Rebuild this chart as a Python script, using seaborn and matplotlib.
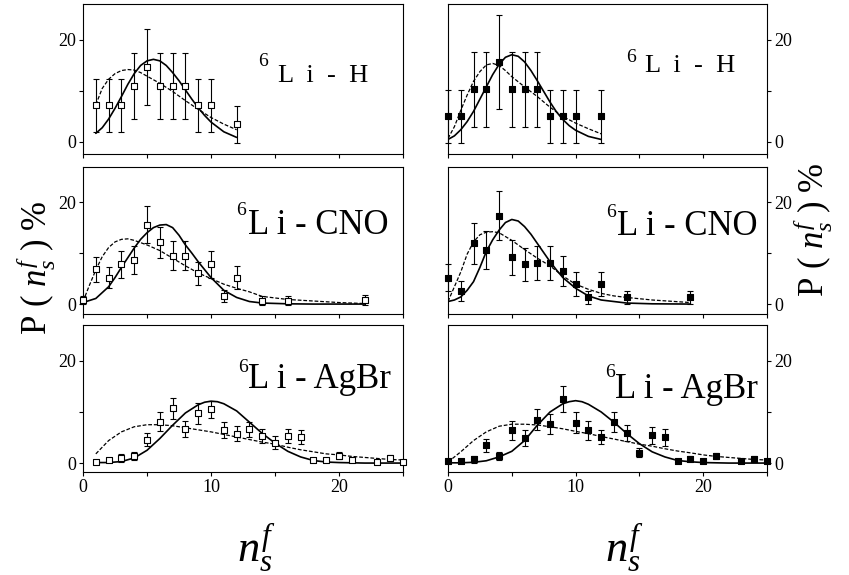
import matplotlib
matplotlib.use("Agg")
import matplotlib.pyplot as plt
import seaborn as sns

sns.set_style("ticks")
plt.rcParams['font.family'] = ['Liberation Serif', 'DejaVu Serif']
plt.rcParams['mathtext.fontset'] = 'custom'
plt.rcParams['mathtext.rm'] = 'Liberation Serif'
plt.rcParams['mathtext.it'] = 'Liberation Serif:italic'
plt.rcParams['axes.edgecolor'] = 'black'
plt.rcParams['text.color'] = 'black'

# ---- 6Li-H ----
h_x_open = [1, 2, 3, 4, 5, 6, 7, 8, 9, 10, 12]
h_y_open = [7.2, 7.2, 7.2, 11.0, 14.7, 11.0, 11.0, 11.0, 7.2, 7.2, 3.5]
h_e_open = [5.2, 5.2, 5.2, 6.4, 7.5, 6.4, 6.4, 6.4, 5.2, 5.2, 3.6]
h_x_fill = [0, 1, 2, 3, 4, 5, 6, 7, 8, 9, 10, 12]
h_y_fill = [5.0, 5.0, 10.3, 10.3, 15.7, 10.3, 10.3, 10.3, 5.0, 5.0, 5.0, 5.0]
h_e_fill = [5.1, 5.1, 7.4, 7.4, 9.2, 7.4, 7.4, 7.4, 5.1, 5.1, 5.1, 5.1]

h_solid_l_x = [1, 1.5, 2, 2.5, 3, 3.5, 4, 4.5, 5, 5.5, 6, 6.5, 7, 7.5, 8, 8.5, 9, 9.5, 10, 11, 12]
h_solid_l_y = [1.7, 2.8, 4.5, 6.6, 8.9, 11.3, 13.4, 15.0, 15.9, 16.2, 15.9, 15.0, 13.6, 12.0, 10.2, 8.4, 6.7, 5.2, 3.9, 2.0, 0.9]
h_dash_l_x = [1, 1.5, 2, 2.5, 3, 3.5, 4, 4.5, 5, 6, 7, 8, 9, 10, 11, 12]
h_dash_l_y = [7.3, 10.5, 12.3, 13.4, 14.0, 14.2, 14.1, 13.6, 12.9, 11.5, 9.9, 8.1, 6.4, 4.8, 3.5, 2.4]
h_solid_r_x = [0, 0.5, 1, 1.5, 2, 2.5, 3, 3.5, 4, 4.5, 5, 5.5, 6, 6.5, 7, 7.5, 8, 8.5, 9, 9.5, 10, 11, 12]
h_solid_r_y = [0.5, 1.2, 2.4, 4.0, 6.0, 8.4, 10.8, 13.2, 15.2, 16.6, 17.1, 16.8, 15.7, 14.0, 12.0, 9.9, 7.8, 5.9, 4.4, 3.2, 2.3, 1.1, 0.5]
h_dash_r_x = [0, 0.5, 1, 1.5, 2, 2.5, 3, 3.5, 4, 4.5, 5, 6, 7, 8, 9, 10, 11, 12]
h_dash_r_y = [0.7, 3.0, 6.2, 9.2, 11.9, 13.8, 15.1, 15.4, 15.0, 14.0, 12.8, 10.8, 8.9, 6.8, 5.0, 3.7, 2.6, 1.6]

# ---- 6Li-CNO ----
c_x_open = [0, 1, 2, 3, 4, 5, 6, 7, 8, 9, 10, 11, 12, 14, 16, 22]
c_y_open = [0.8, 6.8, 5.2, 7.8, 8.6, 15.6, 12.1, 9.5, 9.5, 6.0, 7.8, 1.6, 5.2, 0.7, 0.7, 0.8]
c_e_open = [0.8, 2.4, 2.0, 2.6, 2.7, 3.6, 3.1, 2.8, 2.8, 2.2, 2.7, 1.1, 2.2, 0.8, 0.8, 0.9]
c_x_fill = [0, 1, 2, 3, 4, 5, 6, 7, 8, 9, 10, 11, 12, 14, 19]
c_y_fill = [5.2, 2.6, 11.9, 10.6, 17.3, 9.2, 7.8, 8.0, 8.0, 6.5, 3.9, 1.3, 3.9, 1.3, 1.3]
c_e_fill = [2.7, 1.9, 4.0, 3.7, 4.8, 3.4, 3.2, 3.3, 3.3, 3.0, 2.3, 1.3, 2.3, 1.3, 1.3]

c_solid_l_x = [0, 1, 2, 2.5, 3, 3.5, 4, 4.5, 5, 5.5, 6, 6.5, 7, 7.5, 8, 8.5, 9, 10, 11, 12, 13, 14, 16, 18, 22]
c_solid_l_y = [0.3, 1.1, 3.4, 5.2, 7.2, 9.1, 11.0, 12.7, 14.0, 15.0, 15.5, 15.6, 15.0, 13.5, 11.6, 10.0, 8.3, 5.2, 2.7, 1.3, 0.5, 0.2, 0.05, 0.0, 0.0]
c_dash_l_x = [0, 0.5, 1, 1.5, 2, 2.5, 3, 3.5, 4, 5, 6, 7, 8, 9, 10, 11, 12, 13, 14, 16, 18, 20, 22]
c_dash_l_y = [0.5, 3.7, 6.7, 9.3, 11.1, 12.2, 12.7, 12.8, 12.5, 11.6, 10.5, 9.0, 7.5, 6.1, 5.0, 3.9, 3.1, 2.4, 1.5, 0.9, 0.6, 0.3, 0.1]
c_solid_r_x = [0, 0.5, 1, 1.5, 2, 2.5, 3, 3.5, 4, 4.5, 5, 5.5, 6, 6.5, 7, 7.5, 8, 8.5, 9, 10, 11, 12, 13, 14, 16, 19]
c_solid_r_y = [0.5, 0.8, 1.4, 2.7, 4.4, 7.2, 10.3, 12.6, 14.5, 16.0, 16.6, 16.3, 15.2, 13.7, 11.9, 10.1, 8.3, 6.7, 5.2, 3.1, 1.6, 0.8, 0.5, 0.2, 0.05, 0.0]
c_dash_r_x = [0, 0.5, 1, 1.5, 2, 2.5, 3, 3.5, 4, 5, 6, 7, 8, 9, 10, 11, 12, 13, 14, 16, 19]
c_dash_r_y = [0.5, 3.4, 6.3, 9.8, 12.2, 13.6, 14.1, 14.2, 14.0, 12.5, 10.7, 9.0, 7.5, 5.5, 3.9, 2.9, 2.1, 1.6, 1.3, 0.8, 0.3]

# ---- 6Li-AgBr ----
a_x_open = [1, 2, 3, 4, 5, 6, 7, 8, 9, 10, 11, 12, 13, 14, 15, 16, 17, 18, 19, 20, 21, 23, 24, 25]
a_y_open = [0.3, 0.65, 1.0, 1.4, 4.6, 8.1, 10.7, 6.6, 9.7, 10.5, 6.5, 5.75, 6.6, 5.3, 4.0, 5.3, 5.1, 0.65, 0.65, 1.4, 0.65, 0.3, 1.0, 0.3]
a_e_open = [0.3, 0.4, 0.7, 0.75, 1.3, 1.8, 2.0, 1.6, 2.0, 1.7, 1.6, 1.5, 1.5, 1.4, 1.2, 1.4, 1.3, 0.4, 0.4, 0.7, 0.5, 0.2, 0.65, 0.2]
a_x_fill = [0, 1, 2, 3, 4, 5, 6, 7, 8, 9, 10, 11, 12, 13, 14, 15, 16, 17, 18, 19, 20, 21, 23, 24, 25]
a_y_fill = [0.4, 0.4, 0.7, 3.5, 1.4, 6.4, 4.9, 8.5, 7.6, 12.5, 7.9, 6.4, 5.1, 8.0, 5.9, 2.0, 5.4, 5.0, 0.4, 0.85, 0.4, 1.4, 0.4, 0.85, 0.5]
a_e_fill = [0.3, 0.3, 0.65, 1.3, 0.75, 1.9, 1.5, 2.0, 1.9, 2.6, 2.0, 1.9, 1.4, 1.9, 1.6, 0.9, 1.6, 1.6, 0.3, 0.45, 0.3, 0.65, 0.3, 0.5, 0.3]

a_solid_l_x = [1, 2, 3, 4, 5, 6, 7, 8, 9, 9.5, 10, 10.5, 11, 12, 13, 14, 15, 16, 17, 18, 19, 20, 22, 25]
a_solid_l_y = [0.1, 0.1, 0.3, 1.0, 2.5, 4.8, 7.4, 9.8, 11.4, 11.9, 12.1, 12.0, 11.6, 10.2, 8.0, 5.8, 3.9, 2.3, 1.2, 0.5, 0.2, 0.1, 0.0, 0.0]
a_dash_l_x = [1, 2, 3, 4, 5, 6, 7, 8, 9, 10, 11, 12, 13, 14, 15, 16, 17, 18, 19, 20, 21, 22, 23, 24, 25]
a_dash_l_y = [1.8, 4.4, 6.1, 7.1, 7.5, 7.5, 7.3, 6.9, 6.5, 6.1, 5.6, 5.1, 4.6, 4.1, 3.7, 3.1, 2.6, 2.2, 1.8, 1.6, 1.3, 1.1, 0.9, 0.7, 0.6]
a_solid_r_x = [0, 1, 2, 3, 4, 5, 6, 7, 8, 9, 9.5, 10, 10.5, 11, 12, 13, 14, 15, 16, 17, 18, 19, 20, 22, 25]
a_solid_r_y = [0.05, 0.05, 0.15, 0.45, 1.2, 2.3, 4.4, 7.4, 10.0, 11.6, 12.0, 12.2, 12.0, 11.5, 10.0, 8.0, 5.8, 3.8, 2.2, 1.2, 0.5, 0.25, 0.1, 0.0, 0.0]
a_dash_r_x = [0, 1, 2, 3, 4, 5, 6, 7, 8, 9, 10, 11, 12, 13, 14, 15, 16, 17, 18, 19, 20, 21, 22, 23, 24, 25]
a_dash_r_y = [0.2, 2.2, 4.4, 6.1, 7.2, 7.6, 7.6, 7.45, 7.1, 6.7, 6.2, 5.75, 5.2, 4.7, 4.2, 3.7, 3.3, 2.8, 2.35, 2.0, 1.6, 1.3, 1.1, 0.9, 0.7, 0.6]

systems = ['H', 'CNO', 'AgBr']
label_texts = ['L  i  -  H', 'L i - CNO', 'L i - AgBr']
label_sizes = [19, 25, 25]

panels = {
    ('H', 0): (h_x_open, h_y_open, h_e_open, h_solid_l_x, h_solid_l_y, h_dash_l_x, h_dash_l_y),
    ('H', 1): (h_x_fill, h_y_fill, h_e_fill, h_solid_r_x, h_solid_r_y, h_dash_r_x, h_dash_r_y),
    ('CNO', 0): (c_x_open, c_y_open, c_e_open, c_solid_l_x, c_solid_l_y, c_dash_l_x, c_dash_l_y),
    ('CNO', 1): (c_x_fill, c_y_fill, c_e_fill, c_solid_r_x, c_solid_r_y, c_dash_r_x, c_dash_r_y),
    ('AgBr', 0): (a_x_open, a_y_open, a_e_open, a_solid_l_x, a_solid_l_y, a_dash_l_x, a_dash_l_y),
    ('AgBr', 1): (a_x_fill, a_y_fill, a_e_fill, a_solid_r_x, a_solid_r_y, a_dash_r_x, a_dash_r_y),
}

# layout (figure fractions) and per-row y limits
col_left = [0.0978, 0.5277]
col_width = [0.3769, 0.3757]
row_bottom = [0.7322, 0.4539, 0.1791]
row_height = [0.2609, 0.2557, 0.2557]
row_ylim = [(-2.35, 27.05), (-1.95, 26.9), (-1.75, 27.0)]
# label anchor positions in axes fractions: (6 x, 6 y, text x, text y)
label_pos = {
    ('H', 0): (0.548, 0.587, 0.609, 0.48),
    ('H', 1): (0.558, 0.613, 0.618, 0.547),
    ('CNO', 0): (0.478, 0.673, 0.516, 0.544),
    ('CNO', 1): (0.496, 0.662, 0.529, 0.537),
    ('AgBr', 0): (0.484, 0.682, 0.517, 0.569),
    ('AgBr', 1): (0.491, 0.648, 0.524, 0.501),
}

fig = plt.figure(figsize=(8.49, 5.75), dpi=100)

for r, sysname in enumerate(systems):
    for c in range(2):
        ax = fig.add_axes([col_left[c], row_bottom[r], col_width[c], row_height[r]])
        xs, ys, es, sx, sy, dx, dy = panels[(sysname, c)]

        sns.lineplot(x=dx, y=dy, ax=ax, color='black', lw=0.9,
                     linestyle=(0, (3, 1.5)), sort=False)
        sns.lineplot(x=sx, y=sy, ax=ax, color='black', lw=1.2, sort=False)
        ax.errorbar(xs, ys, yerr=es, fmt='none', ecolor='black', elinewidth=0.8,
                    capsize=2.2, capthick=0.8, clip_on=False, zorder=3)
        face = 'white' if c == 0 else 'black'
        sns.scatterplot(x=xs, y=ys, ax=ax, marker='s', s=16, color=face,
                        edgecolor='black', linewidth=0.8, zorder=4, clip_on=False)

        ax.set_xlim(0, 25)
        ax.set_ylim(*row_ylim[r])
        ax.set_xticks([0, 5, 10, 15, 20, 25])
        ax.set_yticks([0, 10, 20])
        if r == 2:
            ax.set_xticklabels(['0', '', '10', '', '20', ''])
        else:
            ax.set_xticklabels([])
        ax.set_yticklabels(['0', '', '20'])
        if c == 1:
            ax.yaxis.tick_right()
        ax.tick_params(direction='out', length=3, width=0.8, labelsize=13,
                       pad=2, colors='black')
        for sp in ax.spines.values():
            sp.set_linewidth(0.8)
            sp.set_color('black')
        ax.set_xlabel('')
        ax.set_ylabel('')

        p6x, p6y, ptx, pty = label_pos[(sysname, c)]
        ax.text(p6x, p6y, '6', transform=ax.transAxes, fontsize=14,
                ha='left', va='baseline')
        ax.text(ptx, pty, label_texts[r], transform=ax.transAxes,
                fontsize=label_sizes[r], ha='left', va='baseline')

ylab = r'P ( $n_s^f$ ) %'
fig.text(0.042, 0.534, ylab, rotation=90, fontsize=25, ha='center', va='center')
fig.text(0.958, 0.600, ylab, rotation=90, fontsize=25, ha='center', va='center')
fig.text(0.302, 0.047, r'$n_s^f$', fontsize=32, ha='center', va='center')
fig.text(0.735, 0.047, r'$n_s^f$', fontsize=32, ha='center', va='center')

fig.savefig('out.png', dpi=100)
